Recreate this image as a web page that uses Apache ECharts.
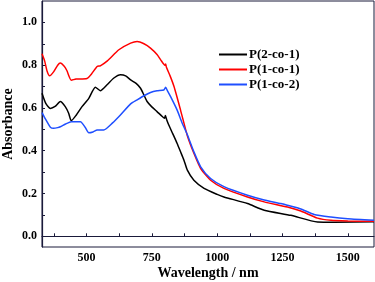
<!DOCTYPE html>
<html><head><meta charset="utf-8">
<script src="https://cdn.jsdelivr.net/npm/echarts@6/dist/echarts.min.js"></script>
<style>html,body{margin:0;padding:0;background:#fff}#c{width:375px;height:282px}</style>
</head><body><div id="c"></div>
<script>
const seriesNames = ['P(2-co-1)', 'P(1-co-1)', 'P(1-co-2)'];
const xTickLabels = [500, 750, 1000, 1250, 1500];
const xMinorTicks = [375, 500, 625, 750, 875, 1000, 1125, 1250, 1375, 1500];
const yTickLabels = [0, 0.2, 0.4, 0.6, 0.8, 1.0];
const yMinorTicks = [0, 0.1, 0.2, 0.3, 0.4, 0.5, 0.6, 0.7, 0.8, 0.9, 1.0];

const blackX = [330,345,362,380,400,419,432,442,460,483,509,534,553,580,605,630,650,669,690,707,720,732,750,770,790,799,802,807,815,830,847,860,873,886,911,950,1000,1026,1116,1180,1282,1384,1450,1600];
const blackY = [0.669,0.62,0.598,0.607,0.63,0.606,0.575,0.54,0.565,0.606,0.645,0.697,0.681,0.71,0.74,0.755,0.75,0.731,0.715,0.692,0.66,0.63,0.605,0.583,0.56,0.552,0.565,0.545,0.52,0.48,0.434,0.395,0.356,0.309,0.262,0.224,0.196,0.184,0.153,0.122,0.098,0.067,0.066,0.068];

const redX = [330,340,350,359,375,390,400,415,425,442,460,502,520,541,553,580,624,669,694,720,745,770,784,800,803,806,820,835,860,886,911,937,975,1026,1116,1180,1269,1320,1384,1435,1500,1600];
const redY = [0.853,0.82,0.77,0.75,0.77,0.80,0.81,0.795,0.775,0.73,0.735,0.738,0.76,0.794,0.797,0.82,0.872,0.903,0.911,0.90,0.88,0.85,0.825,0.80,0.805,0.79,0.75,0.70,0.59,0.47,0.388,0.317,0.262,0.224,0.184,0.161,0.137,0.118,0.085,0.075,0.072,0.07];

const blueX = [330,340,349,362,374,390,400,420,442,477,495,509,525,541,566,600,630,669,694,720,745,770,796,803,810,822,847,866,886,911,937,975,1026,1116,1180,1244,1269,1320,1371,1435,1500,1600];
const blueY = [0.578,0.555,0.536,0.51,0.505,0.508,0.512,0.525,0.536,0.536,0.51,0.484,0.488,0.497,0.497,0.53,0.567,0.619,0.638,0.657,0.672,0.68,0.684,0.697,0.68,0.653,0.59,0.53,0.475,0.395,0.325,0.27,0.232,0.192,0.17,0.153,0.145,0.128,0.102,0.09,0.082,0.075];

const colors = ['#000000', '#ff0000', '#1f4fff'];
const zip = (xs, ys) => xs.map((x, i) => [x, ys[i]]);
const font = 'Liberation Serif';
const axisColor = '#1a1a3a';

const chart = echarts.init(document.getElementById('c'), null, {renderer: 'canvas'});
chart.setOption({
  animation: false,
  grid: {left: 42, right: 1, top: 1, bottom: 35, outerBoundsMode: 'none', containLabel: false, show: true, borderColor: axisColor, borderWidth: 1},
  legend: {
    orient: 'vertical', left: 214, top: 43, itemWidth: 28, itemHeight: 2, itemGap: 2, icon: 'rect',
    data: seriesNames,
    textStyle: {fontFamily: font, fontWeight: 'bold', fontSize: 13, color: '#000', lineHeight: 13, padding: [0,0,0,-3]}
  },
  xAxis: {
    type: 'value', min: 330, max: 1600,
    name: 'Wavelength / nm', nameLocation: 'middle', nameGap: 19, nameMoveOverlap: false,
    nameTextStyle: {fontFamily: font, fontWeight: 'bold', fontSize: 14, color: '#000'},
    axisLine: {show: true, lineStyle: {color: axisColor, width: 1.2}},
    axisTick: {show: true, inside: true, length: 3, customValues: xMinorTicks, lineStyle: {color: axisColor}},
    axisLabel: {customValues: xTickLabels, formatter: v => String(v), fontFamily: font, fontWeight: 'bold', fontSize: 12, color: '#000', margin: 5},
    splitLine: {show: false}
  },
  yAxis: {
    type: 'value', min: -0.05, max: 1.1,
    name: 'Absorbance', nameLocation: 'middle', nameGap: 27, nameRotate: 90, nameMoveOverlap: false,
    nameTextStyle: {fontFamily: font, fontWeight: 'bold', fontSize: 14, color: '#000'},
    axisLine: {show: true, lineStyle: {color: axisColor, width: 1.2}},
    axisTick: {show: true, inside: true, length: 3, customValues: yMinorTicks, lineStyle: {color: axisColor}},
    axisLabel: {customValues: yTickLabels, formatter: v => v.toFixed(1), fontFamily: font, fontWeight: 'bold', fontSize: 12, color: '#000', margin: 5},
    splitLine: {show: false}
  },
  series: [
    {name: seriesNames[0], type: 'line', data: zip(blackX, blackY), symbol: 'none', smooth: 0.2, lineStyle: {color: colors[0], width: 1.5}, itemStyle: {color: colors[0]}},
    {name: seriesNames[1], type: 'line', data: zip(redX, redY), symbol: 'none', smooth: 0.2, lineStyle: {color: colors[1], width: 1.5}, itemStyle: {color: colors[1]}},
    {name: seriesNames[2], type: 'line', data: zip(blueX, blueY), symbol: 'none', smooth: 0.2, lineStyle: {color: colors[2], width: 1.5}, itemStyle: {color: colors[2]}}
  ]
});
</script></body></html>
